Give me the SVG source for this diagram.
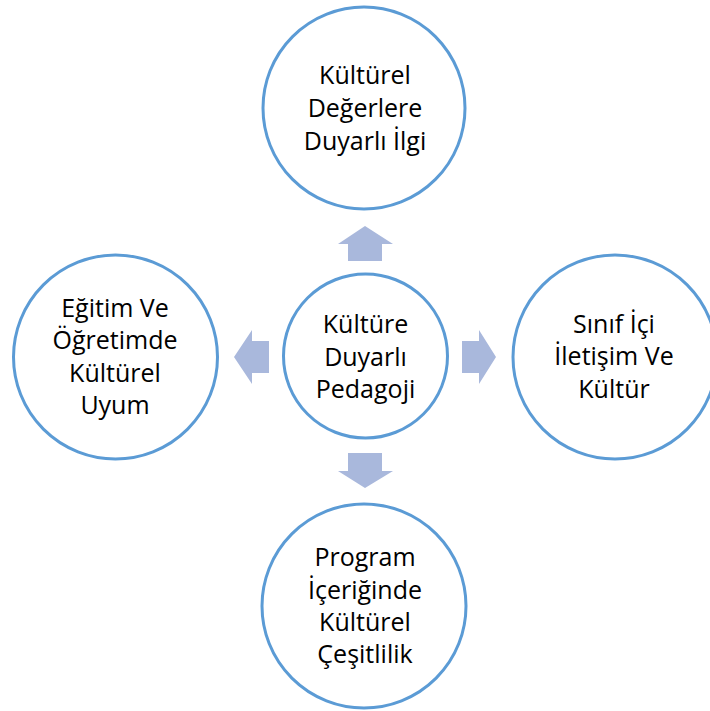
<svg xmlns="http://www.w3.org/2000/svg" width="710" height="711" viewBox="0 0 710 711">
<style>
.c{fill:#fff;stroke:#5B9BD5;stroke-width:3}
.a{fill:#A9B8DC}
text{font-family:"Open Sans","Noto Sans","DejaVu Sans",sans-serif;font-size:25px;fill:#000;text-anchor:middle}
</style>
<rect width="710" height="711" fill="#fff"/>
<g id="connectors">
<polygon class="a" points="348,261 348,244 338,244 365,226 393,244 382,244 382,261"/>
<polygon class="a" points="348,453 382,453 382,471 393,471 365,488 338,471 348,471"/>
<polygon class="a" points="269,341 252,341 252,330 234,357 252,384 252,373 269,373"/>
<polygon class="a" points="462,341 479,341 479,330 496,357 479,384 479,373 462,373"/>
</g>
<g id="center">
<circle class="c" cx="365.5" cy="356" r="82"/>
<text x="365.5" y="333">Kültüre</text>
<text x="365.5" y="366">Duyarlı</text>
<text x="365.5" y="398">Pedagoji</text>
</g>
<g id="top">
<circle class="c" cx="364" cy="108" r="101"/>
<text x="365" y="84">Kültürel</text>
<text x="365" y="117">Değerlere</text>
<text x="365" y="150">Duyarlı İlgi</text>
</g>
<g id="right">
<circle class="c" cx="615" cy="357" r="102"/>
<text x="614" y="333">Sınıf İçi</text>
<text x="614" y="365">İletişim Ve</text>
<text x="614" y="398">Kültür</text>
</g>
<g id="left">
<circle class="c" cx="115.5" cy="357" r="102"/>
<text x="115" y="317">Eğitim Ve</text>
<text x="115" y="349">Öğretimde</text>
<text x="115" y="382">Kültürel</text>
<text x="115" y="414">Uyum</text>
</g>
<g id="bottom">
<circle class="c" cx="364" cy="606" r="102"/>
<text x="365" y="566">Program</text>
<text x="365" y="599">İçeriğinde</text>
<text x="365" y="631">Kültürel</text>
<text x="365" y="663">Çeşitlilik</text>
</g>
</svg>
